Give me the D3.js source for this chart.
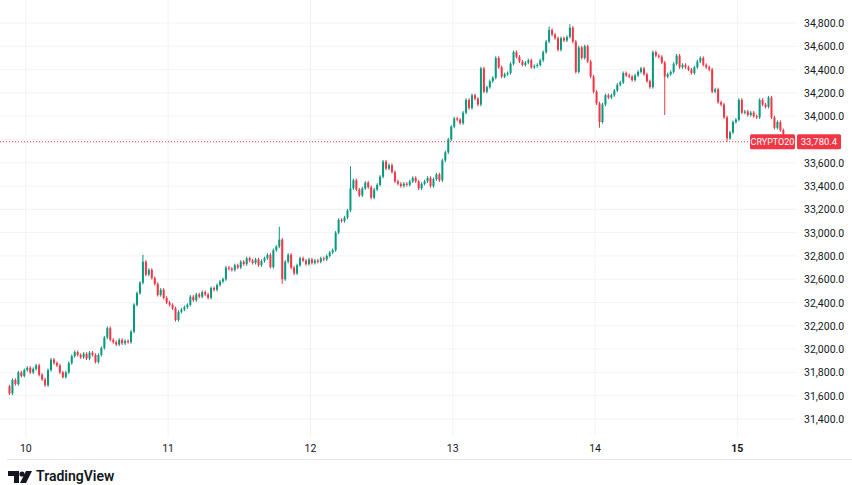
<!DOCTYPE html>
<html><head><meta charset="utf-8">
<script src="https://cdn.jsdelivr.net/npm/d3@7"></script>
<style>body{margin:0;background:#fff;font-family:Roboto,"Open Sans",sans-serif}</style>
</head><body><svg id="c" width="852" height="485"></svg>
<script>
const closes=[31620,31735,31700,31800,31770,31820,31840,31800,31830,31860,31780,31740,31690,31820,31910,31880,31860,31800,31760,31800,31880,31940,31975,31950,31930,31960,31920,31970,31950,31890,31950,32010,32100,32180,32080,32060,32040,32080,32050,32070,32060,32150,32380,32480,32570,32750,32640,32680,32610,32560,32465,32510,32440,32400,32380,32350,32250,32320,32340,32360,32380,32450,32420,32470,32450,32490,32470,32440,32525,32510,32550,32580,32600,32700,32690,32680,32720,32700,32750,32730,32780,32760,32740,32770,32720,32757,32780,32810,32705,32850,32880,32940,32600,32750,32810,32700,32650,32720,32780,32760,32730,32770,32740,32760,32750,32780,32770,32800,32830,32850,33000,33110,33100,33130,33190,33380,33450,33370,33320,33380,33430,33390,33300,33370,33410,33480,33610,33550,33580,33520,33440,33420,33400,33420,33410,33440,33470,33440,33380,33420,33440,33470,33400,33460,33500,33450,33620,33690,33800,33910,33980,33970,33940,34030,34140,34070,34180,34150,34100,34410,34210,34250,34300,34330,34500,34420,34340,34360,34370,34450,34550,34510,34470,34440,34460,34480,34420,34430,34440,34480,34550,34640,34740,34700,34670,34570,34670,34650,34680,34760,34640,34380,34590,34500,34600,34470,34340,34210,34110,33950,34100,34180,34160,34180,34220,34270,34290,34370,34350,34340,34310,34350,34380,34410,34360,34300,34250,34550,34520,34510,34460,34340,34360,34380,34450,34520,34420,34440,34420,34400,34370,34420,34470,34500,34440,34420,34400,34210,34230,34120,34100,33990,33810,33860,33950,33970,34140,34030,34040,34010,34030,34000,33990,34140,34100,34080,34160,33990,33900,33950,33880,33780];
const firstOpen=31680;
const wickIdx=[45,91,92,115,182,189,199,221,242];
const wickHigh=[32810,33050,null,33570,34770,34790,null,null,null];
const wickLow=[null,null,32560,null,null,null,33900,34010,33780];
const yTicks=d3.range(31400,34801,200);
const dayLabels=["10","11","12","13","14","15"];
const symbol="CRYPTO20";
const lastPrice=33780.4;

const UP="#089981",DN="#f23645";
const svg=d3.select("#c");
const t0=new Date(2024,0,9,21,0);
const step=30*60*1000;
const N=closes.length;
const x=d3.scaleTime().domain([t0,new Date(+t0+N*step)]).range([8,8+N*2.965]);
const y=d3.scaleLinear().domain([31400,34800]).range([419,23]);
const data=closes.map((c,i)=>{const o=i?closes[i-1]:firstOpen;let h=Math.max(o,c)+14,l=Math.min(o,c)-14;const k=wickIdx.indexOf(i);if(k>=0){if(wickHigh[k])h=wickHigh[k];if(wickLow[k])l=wickLow[k];}return{t:new Date(+t0+i*step+step/2),o,c,h,l};});
const days=dayLabels.map((d,i)=>new Date(2024,0,10+i));
const py=y(lastPrice);
svg.append("g").selectAll("line").data(yTicks).join("line").attr("x1",0).attr("x2",797).attr("y1",d=>y(d)).attr("y2",d=>y(d)).attr("stroke","#f2f3f5");
svg.append("g").selectAll("line").data(days).join("line").attr("x1",d=>x(d)).attr("x2",d=>x(d)).attr("y1",0).attr("y2",437).attr("stroke","#f2f3f5");
const g=svg.append("g");
g.selectAll("line").data(data).join("line").attr("x1",d=>x(d.t)).attr("x2",d=>x(d.t)).attr("y1",d=>y(d.h)).attr("y2",d=>y(d.l)).attr("stroke",d=>d.c>=d.o?UP:DN).attr("stroke-width",1);
g.selectAll("rect").data(data).join("rect").attr("x",d=>x(d.t)-1).attr("width",2).attr("y",d=>y(Math.max(d.o,d.c))).attr("height",d=>Math.max(1,Math.abs(y(d.o)-y(d.c)))).attr("fill",d=>d.c>=d.o?UP:DN);
svg.append("g").selectAll("text").data(yTicks.filter(d=>Math.abs(y(d)-py)>12)).join("text").attr("x",804).attr("y",d=>y(d)+4).attr("font-size",10.5).attr("fill","#131722").text(d=>d3.format(",.1f")(d));
svg.append("g").selectAll("text").data(days).join("text").attr("x",d=>x(d)).attr("y",452).attr("text-anchor","middle").attr("font-size",10.5).attr("fill","#131722").text((d,i)=>dayLabels[i]).attr("font-weight",(d,i)=>i==5?"bold":"normal");
svg.append("line").attr("x1",7).attr("x2",852).attr("y1",459.5).attr("y2",459.5).attr("stroke","#e0e3eb");
svg.append("line").attr("x1",0).attr("x2",750).attr("y1",py).attr("y2",py).attr("stroke",DN).attr("stroke-dasharray","1,2");
svg.append("rect").attr("x",750).attr("y",py-7.5).attr("width",45).attr("height",15).attr("rx",1.5).attr("fill",DN);
svg.append("text").attr("x",772.5).attr("y",py+3.5).attr("text-anchor","middle").attr("font-size",9).attr("fill","#fff").text(symbol);
svg.append("rect").attr("x",797).attr("y",py-7.5).attr("width",44).attr("height",15).attr("rx",1.5).attr("fill",DN);
svg.append("text").attr("x",819).attr("y",py+3.5).attr("text-anchor","middle").attr("font-size",9.5).attr("fill","#fff").text(d3.format(",.1f")(lastPrice));
const lg=svg.append("g");
lg.append("path").attr("d","M8 471h11v12h-5v-7h-6z").attr("fill","#131722");
lg.append("circle").attr("cx",22).attr("cy",474).attr("r",2.6).attr("fill","#131722");
lg.append("path").attr("d","M26 471h6l-6 12h-6z").attr("fill","#131722");
svg.append("text").attr("x",36).attr("y",481).attr("font-size",14).attr("font-weight","600").attr("fill","#131722").text("TradingView");
</script></body></html>
